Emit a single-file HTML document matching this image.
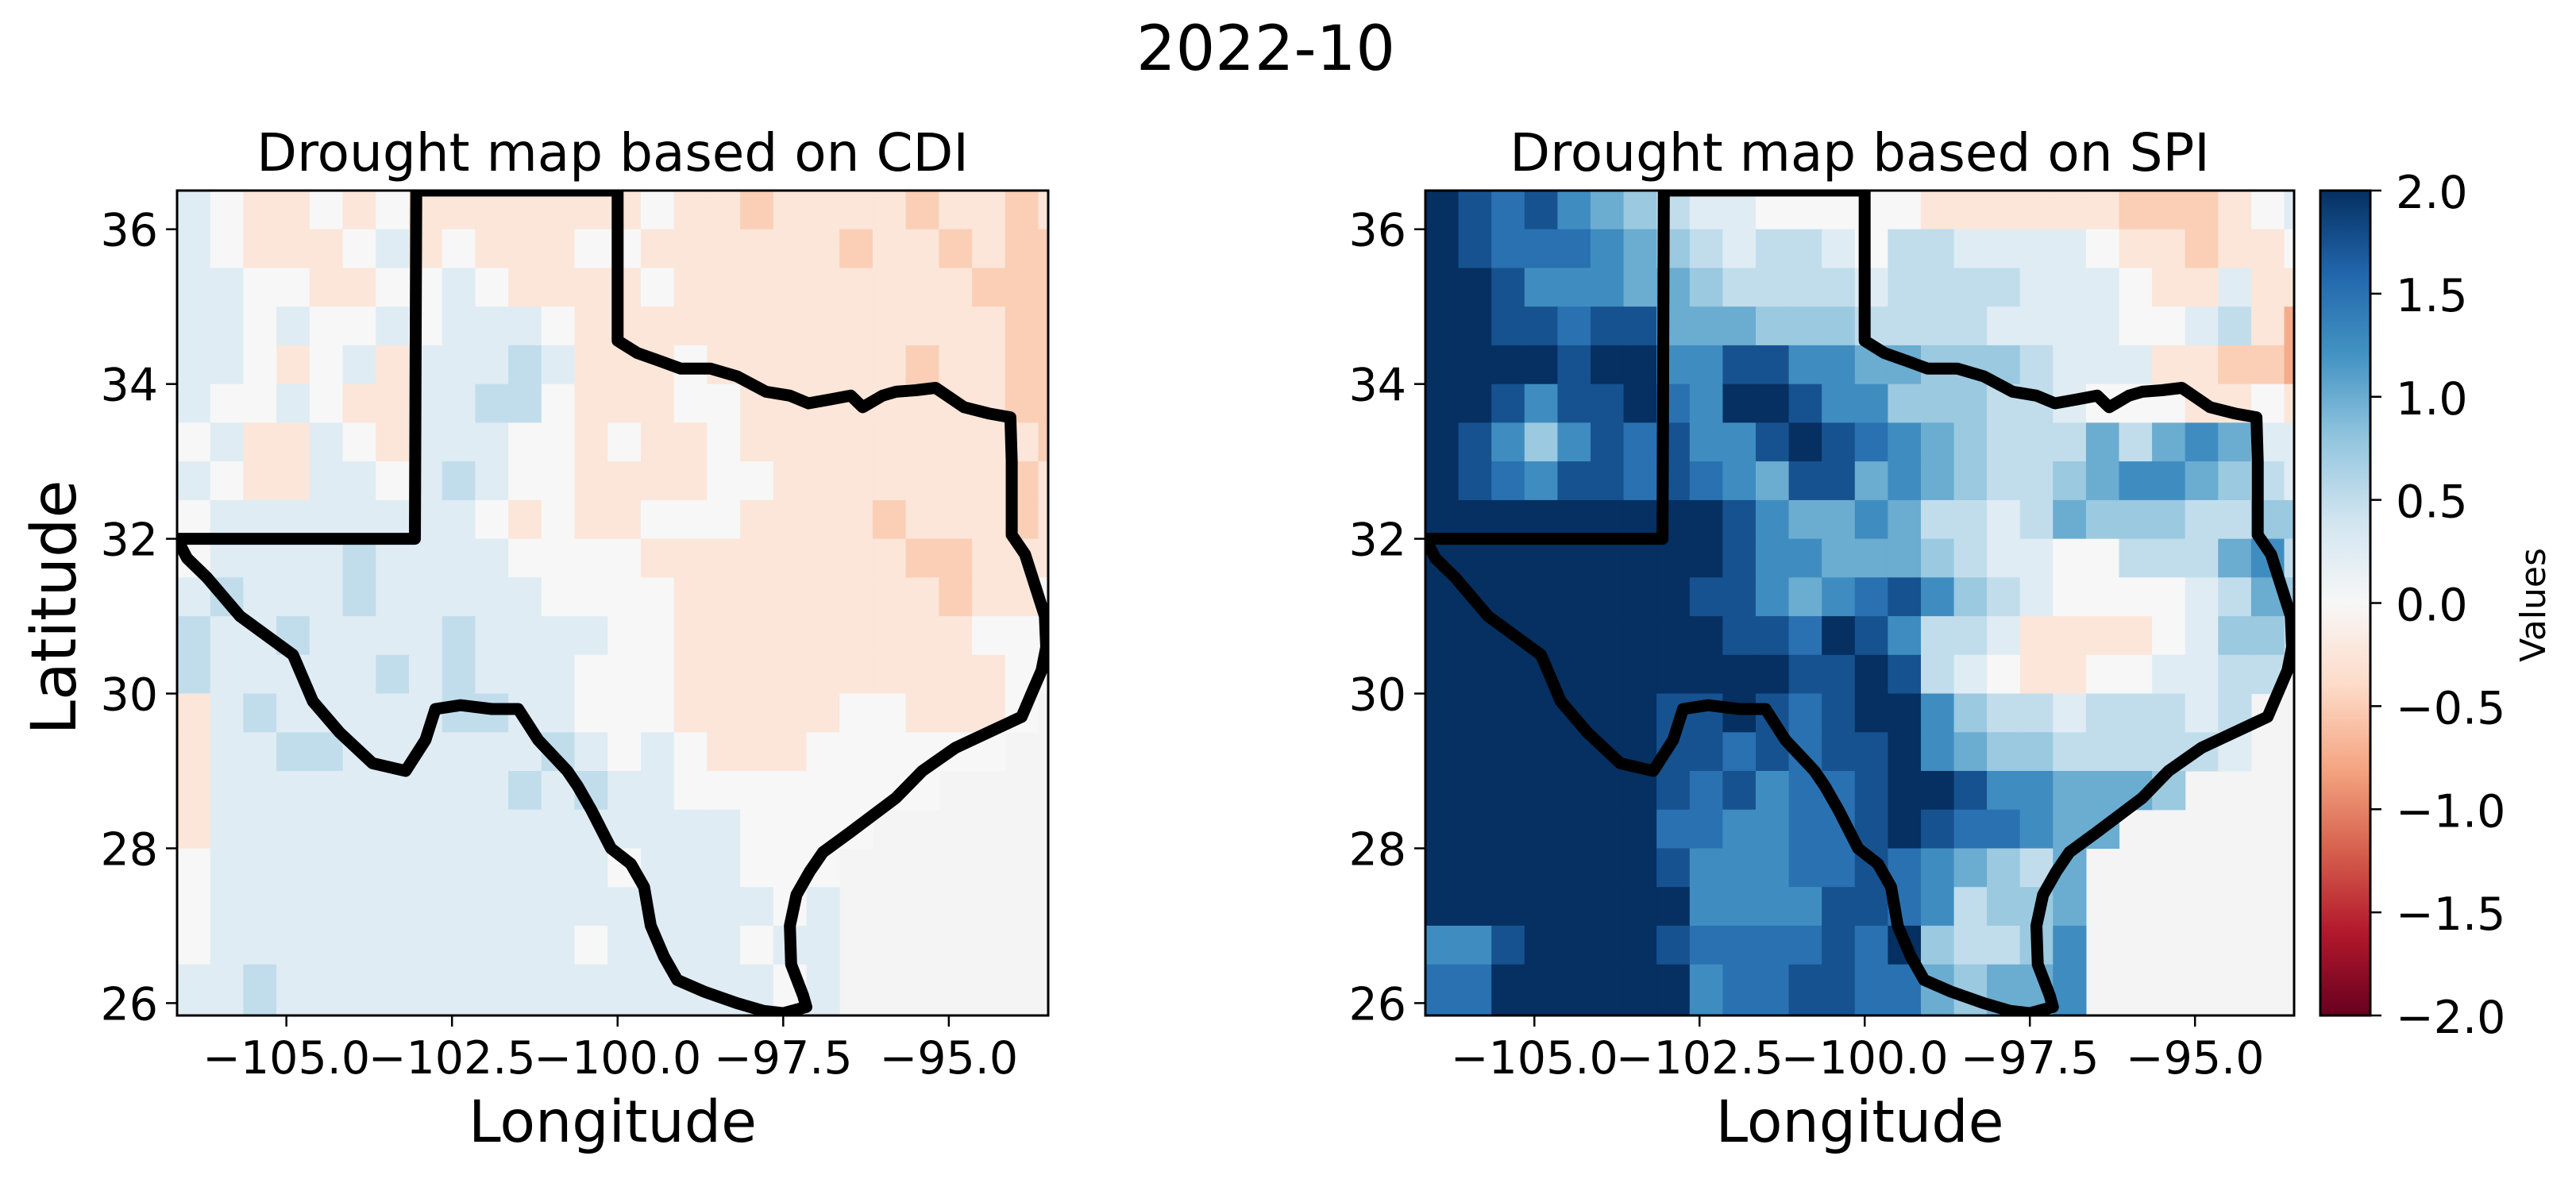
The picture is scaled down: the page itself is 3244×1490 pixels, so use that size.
<!DOCTYPE html>
<html><head><meta charset="utf-8"><style>
html,body{margin:0;padding:0;background:#fff;}
svg text{font-family:"DejaVu Sans","Liberation Sans",sans-serif;fill:#000;}
</style></head><body>
<svg id="fig" xmlns="http://www.w3.org/2000/svg" width="3244" height="1485" viewBox="0 0 3244 1485">
<rect width="3244" height="1485" fill="#fff"/>
<text x="1594" y="88" font-size="78" text-anchor="middle">2022-10</text>
</svg>
<script>
// ---- data ----
// grid: 0.5 degree cells, columns start at lon -106.65, rows start at lat 36.5 going down
// code letters: a=-2.0 ... i=0 ... q=+2.0 (step 0.25), '.' = no data
const lonStart = -106.65;
const latTop = 36.5;
const cellDeg = 0.5;
const cdiRows = [
"jihhihihhhhhhhihhghhhhghhgh",
"jihhhijhihhhiihhhhhhghhghgg",
"jjiihhiijihhhhihhhhhhhhhggg",
"jjijiijijjjihhhhhhhhhhhhhgg",
"jjihijhjjjkjhhhihhhhhhghhgg",
"jiijihhjjkkihhhiihhhhhhhhgg",
"ijhhjihjjjiihihhihhhhhhhhhg",
"jihhjjijkjiihhhhiihhhhhhhgh",
"ijjjjjjjjihihhiiihhhhghhhgh",
"ijjjjkjjjjiiiihhhhhhhhgghhh",
"jkjjjkjjjjjiiiihhhhhhhhghhi",
"kjjkjjjjkjjjjiihhhhhhhhhiii",
"kjjjjjkjkjjjiiihhhhhhhhhhii",
"hjkjjjjjkkjjiiihhhhhiihhhi.",
"hjjkkjjjjjjkjijihhhiiiiii..",
"hjjjjjjjjjkjkjjiiiiiiii....",
"hjjjjjjjjjjjjjjjjiiii......",
"ijjjjjjjjjjjjijjjiii.......",
"ijjjjjjjjjjjjjjjjjij.......",
"ijjjjjjjjjjjijjjjijj.......",
"jjkjjjjjjjjjjjjjjjij.......",
"jjkjjjjjjjjjjjjjjjij......."
];
const spiRows = [
"qpopnmlkjjiiiiihhhhhhggghij",
"qpooonmlkjkkjikkjjjjihhghhi",
"qqpnnnmmlkkkkjkkkkjjjihhjhh",
"qqppoppmmmlllkkkkjjjjiijkhf",
"qqqqpqqnnppnnmmlllkjjjhhggf",
"qqpnppqonqqpnnlllkkjiiihhih",
"qpnlnpopnnpqponmlkkkmkmnmjj",
"qponppoponmppmnmlkklmnnmlkj",
"qqqqqqqqqpnmmnmkkjkmlllkkll",
"qqqqqqqqqpnnmmmlkjjiikkkmnk",
"qqqqqqqqppnmnopnlkjiiiijkml",
"qqqqqqqqqppoqpnkkjhhhhijllk",
"qqqqqqqqqqqppqpkjihhiijjkk.",
"qqqqqqqppqpopqqnlkkjkkkjk..",
"qqqqqqqppopoppqnmllkkkkkj..",
"qqqqqqqpopnoopqqpnnmmml....",
"qqqqqqqoonnoopqpoonmm......",
"qqqqqqqpnnnooponmlkm.......",
"qqqqqqqqnnnnpponkllm.......",
"nnpqqqqpoooopoqlkkln.......",
"ooqqqqqqnooppoomlmmn.......",
"ooqqqqqqnooppoomlmmn......."
];
const xTicks = [-105.0, -102.5, -100.0, -97.5, -95.0];
const xTickLabels = ["\u2212105.0", "\u2212102.5", "\u2212100.0", "\u221297.5", "\u221295.0"];
const yTicks = [26, 28, 30, 32, 34, 36];
const yTickLabels = ["26", "28", "30", "32", "34", "36"];
const cbTicks = [2.0, 1.5, 1.0, 0.5, 0.0, -0.5, -1.0, -1.5, -2.0];
const cbTickLabels = ["2.0", "1.5", "1.0", "0.5", "0.0", "\u22120.5", "\u22121.0", "\u22121.5", "\u22122.0"];
const borderLon = [-106.65,-103.06,-103.04,-100.0,-100.0,-99.7,-99.37,-99.05,-98.6,-98.2,-97.76,-97.4,-97.12,-96.8,-96.48,-96.3,-96.0,-95.8,-95.5,-95.2,-94.77,-94.4,-94.07,-94.05,-94.05,-93.85,-93.7,-93.55,-93.53,-93.6,-93.75,-93.9,-94.4,-94.9,-95.4,-95.8,-96.5,-96.9,-97.1,-97.3,-97.4,-97.38,-97.2,-97.15,-97.5,-97.8,-98.2,-98.7,-99.1,-99.3,-99.5,-99.6,-99.8,-100.1,-100.4,-100.6,-100.76,-101.2,-101.5,-101.9,-102.37,-102.75,-102.9,-103.2,-103.7,-104.2,-104.6,-104.9,-105.3,-105.7,-106.2,-106.5,-106.65];
const borderLat = [32.0,32.0,36.5,36.5,34.56,34.4,34.3,34.2,34.2,34.1,33.9,33.85,33.75,33.8,33.85,33.7,33.85,33.9,33.92,33.95,33.7,33.62,33.57,33.0,32.05,31.8,31.4,31.0,30.6,30.3,30.0,29.7,29.5,29.3,29.0,28.65,28.2,27.95,27.7,27.4,27.0,26.5,26.1,25.95,25.87,25.9,26.0,26.15,26.3,26.6,27.0,27.5,27.8,28.0,28.5,28.8,29.0,29.4,29.8,29.8,29.85,29.8,29.4,29.0,29.1,29.5,29.9,30.5,30.75,31.0,31.5,31.75,32.0];

// ---- layout ----
const NS = "http://www.w3.org/2000/svg";
const svg = document.getElementById('fig');
const axH = {top: 240, bottom: 1279};
const lonMin = -106.65, lonMax = -93.5, latMin = 25.84, latMax = 36.5;
const stops = ["#67001f","#b2182b","#d6604d","#f4a582","#fddbc7","#f7f7f7","#d1e5f0","#92c5de","#4393c3","#2166ac","#053061"];
function hex(c){return [parseInt(c.slice(1,3),16),parseInt(c.slice(3,5),16),parseInt(c.slice(5,7),16)];}
function cmap(v){
  let t = (v + 2) / 4; t = Math.max(0, Math.min(1, t));
  const p = t * 10, i = Math.min(9, Math.floor(p)), f = p - i;
  const a = hex(stops[i]), b = hex(stops[i+1]);
  return 'rgb(' + a.map((x,k)=>Math.round(x + (b[k]-x)*f)).join(',') + ')';
}
function decode(ch){ if (ch === '.') return null; return (ch.charCodeAt(0) - 105) * 0.25; }
function mk(tag, attrs, parent){ const e = document.createElementNS(NS, tag); for (const k in attrs) e.setAttribute(k, attrs[k]); (parent||svg).appendChild(e); return e; }

function drawPanel(x0, x1, rows, title, name, showYLabel){
  const sx = lon => x0 + (lon - lonMin) / (lonMax - lonMin) * (x1 - x0);
  const sy = lat => axH.bottom - (lat - latMin) / (latMax - latMin) * (axH.bottom - axH.top);
  const g = mk('g', {});
  
  
  const clipId = 'clip-' + name;
  const cp = mk('clipPath', {id: clipId}, g);
  mk('rect', {x: x0, y: axH.top, width: x1 - x0, height: axH.bottom - axH.top}, cp);
  const hm = mk('g', {'clip-path': 'url(#' + clipId + ')'}, g);
  
  
  mk('rect', {x: x0, y: axH.top, width: x1 - x0, height: axH.bottom - axH.top, fill: '#f4f4f4'}, hm);
  rows.forEach((row, r) => {
    for (let c = 0; c < 27; c++) {
      const v = decode(row[c] || row[row.length-1]);
      if (v === null) continue;
      const lonA = lonStart + c * cellDeg, latA = latTop - r * cellDeg;
      const xa = sx(lonA), xb = sx(lonA + cellDeg), ya = sy(latA), yb = sy(latA - cellDeg);
      const cell = mk('rect', {x: xa.toFixed(1), y: ya.toFixed(1), width: (xb - xa + 0.6).toFixed(1), height: (yb - ya + 0.6).toFixed(1), fill: cmap(v)}, hm);
      
      
    }
  });
  const pts = borderLon.map((lo, i) => sx(lo).toFixed(1) + ',' + sy(borderLat[i]).toFixed(1)).join(' ');
  const b = mk('polyline', {points: pts, fill: 'none', stroke: '#000', 'stroke-width': 15, 'stroke-linejoin': 'round', 'stroke-linecap': 'round'}, hm);
  
  
  const fr = mk('rect', {x: x0, y: axH.top, width: x1 - x0, height: axH.bottom - axH.top, fill: 'none', stroke: '#000', 'stroke-width': 3}, g);
  
  
  xTicks.forEach((t, i) => {
    const x = sx(t);
    mk('line', {x1: x, x2: x, y1: axH.bottom, y2: axH.bottom + 14, stroke: '#000', 'stroke-width': 2.5}, g);
    const tl = mk('text', {x: x, y: 1352, 'font-size': 57, 'text-anchor': 'middle'}, g);
    tl.textContent = xTickLabels[i];
    
    
  });
  yTicks.forEach((t, i) => {
    const y = sy(t);
    mk('line', {x1: x0 - 14, x2: x0, y1: y, y2: y, stroke: '#000', 'stroke-width': 2.5}, g);
    const tl = mk('text', {x: x0 - 24, y: y + 21, 'font-size': 57, 'text-anchor': 'end'}, g);
    tl.textContent = yTickLabels[i];
    
    
  });
  const tt = mk('text', {x: (x0 + x1) / 2, y: 215, 'font-size': 66, 'text-anchor': 'middle'}, g);
  tt.textContent = title;
  
  
  const xl = mk('text', {x: (x0 + x1) / 2, y: 1438, 'font-size': 73, 'text-anchor': 'middle'}, g);
  xl.textContent = 'Longitude';
  
  
  if (showYLabel) {
    const yl = mk('text', {x: 0, y: 0, 'font-size': 78, 'text-anchor': 'middle', transform: 'translate(95,765) rotate(-90)'}, g);
    yl.textContent = 'Latitude';
    
    
  }
}
drawPanel(223, 1320, cdiRows, 'Drought map based on CDI', 'cdi', true);
drawPanel(1795, 2889, spiRows, 'Drought map based on SPI', 'spi', false);

// colorbar
(function(){
  const cx0 = 2922, cx1 = 2985;
  const sv = v => axH.bottom - (v + 2) / 4 * (axH.bottom - axH.top);
  const defs = mk('defs', {});
  const lg = mk('linearGradient', {id: 'cbg', x1: 0, y1: 1, x2: 0, y2: 0}, defs);
  stops.forEach((s, i) => mk('stop', {offset: (i / 10), 'stop-color': s}, lg));
  const g = mk('g', {});
  
  
  mk('rect', {x: cx0, y: axH.top, width: cx1 - cx0, height: axH.bottom - axH.top, fill: 'url(#cbg)', stroke: '#000', 'stroke-width': 3}, g);
  cbTicks.forEach((t, i) => {
    const y = sv(t);
    mk('line', {x1: cx1, x2: cx1 + 14, y1: y, y2: y, stroke: '#000', 'stroke-width': 2.5}, g);
    const tl = mk('text', {x: cx1 + 32, y: y + 22, 'font-size': 57}, g);
    tl.textContent = cbTickLabels[i];
    
    
  });
  const lab = mk('text', {x: 0, y: 0, 'font-size': 44, 'text-anchor': 'middle', transform: 'translate(3205,762) rotate(-90)'}, g);
  lab.textContent = 'Values';
  
  
})();
</script>
</body></html>
